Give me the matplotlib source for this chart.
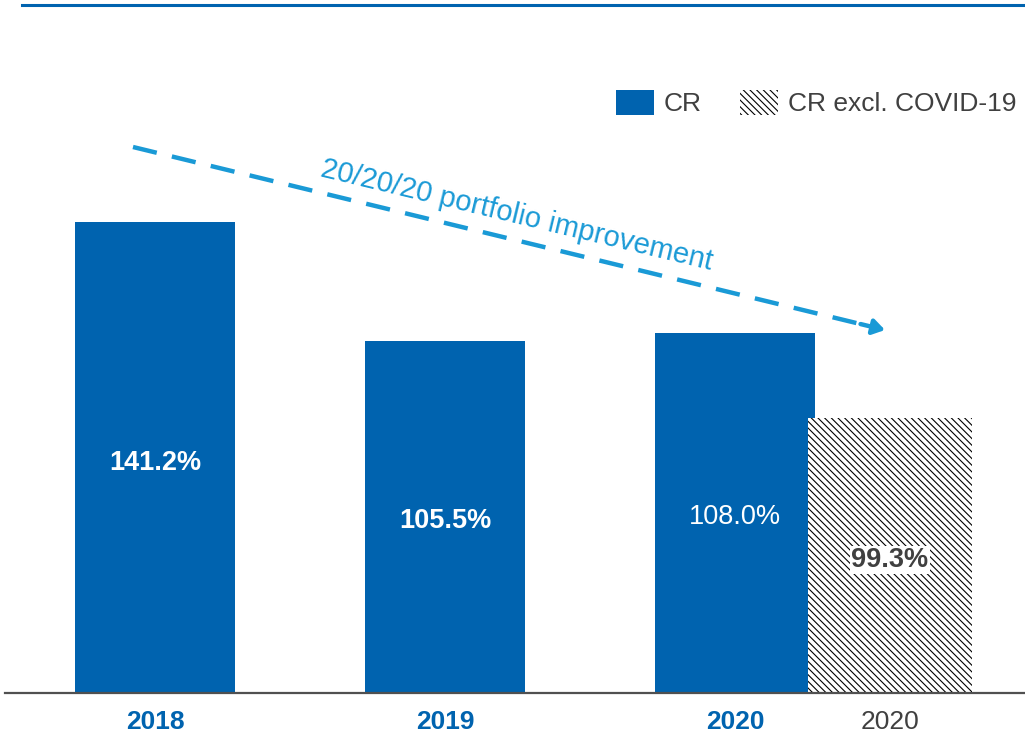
#!/usr/bin/env python

import matplotlib
matplotlib.use('Agg')
import matplotlib.pyplot as plt
from matplotlib.lines import Line2D

plt.rcParams['font.family'] = ['Liberation Sans', 'DejaVu Sans']
plt.rcParams['hatch.linewidth'] = 0.8

# data
years = ['2018', '2019', '2020']
cr_values = [141.2, 105.5, 108.0]
cr_labels = ['141.2%', '105.5%', '108.0%']
excl_year = '2020'
excl_value = 99.3
excl_label = '99.3%'
# the source draws the hatched bar shorter than its value would give
excl_drawn = 82.5
arrow_text = '20/20/20 portfolio improvement'
legend_labels = ['CR', 'CR excl. COVID-19']

blue = '#0063AF'
light_blue = '#1A9AD6'
dark = '#404040'

fig = plt.figure(figsize=(10.25, 7.4), dpi=100)
ax = fig.add_axes([0, 47 / 740, 1, 693 / 740])
ax.set_xlim(-155 / 290, 870 / 290)
ax.set_ylim(0, 693 / 3.335)
ax.axis('off')

x = list(range(len(years)))
bars = ax.bar(x, cr_values, width=0.552, color=blue, label=legend_labels[0])
hbar = ax.bar([2.534], [excl_drawn], width=0.566, color='white', edgecolor='black',
              linewidth=0, hatch='\\\\\\\\\\', label=legend_labels[1])

# value labels
weights = ['bold', 'bold', 'normal']
ypos = [230 / 3.335, 172 / 3.335, 176 / 3.335]
for xi, lab, w, yy in zip(x, cr_labels, weights, ypos):
    ax.text(xi, yy, lab, color='white', fontsize=19.5, fontweight=w,
            ha='center', va='center')
ax.text(2.534, 133 / 3.335, excl_label, color=dark, fontsize=19.5, fontweight='bold',
        ha='center', va='center',
        bbox=dict(facecolor='white', edgecolor='none', pad=1))

# year labels under the axis
for xi, yr in zip(x, years):
    ax.text(xi, -29 / 3.335, yr, color=blue, fontsize=19, fontweight='bold',
            ha='center', va='center')
ax.text(2.534, -29 / 3.335, excl_year, color=dark, fontsize=19,
        ha='center', va='center')

# baseline
ax.axhline(0, xmin=5 / 1025, xmax=1, color='#505050', lw=1.6, clip_on=False)

# dashed trend arrow
x0, y0 = -22 / 290, (693 - 147) / 3.335
x1, y1 = 730 / 290, (693 - 330) / 3.335
xm = x0 + (x1 - x0) * 0.975
ym = y0 + (y1 - y0) * 0.975
ax.plot([x0, xm], [y0, ym], color=light_blue, lw=3.2, ls=(0, (5.5, 3.5)),
        solid_capstyle='butt', dash_capstyle='butt')
ax.annotate('', xy=(x1, y1), xytext=(xm - (x1 - xm) * 0.3, ym - (y1 - ym) * 0.3),
            arrowprops=dict(arrowstyle='-|>,head_length=0.7,head_width=0.45',
                            color=light_blue, lw=3.2, shrinkA=0, shrinkB=0))
ax.text(362 / 290, (693 - 215) / 3.335, arrow_text, color=light_blue, fontsize=21,
        rotation=-13.5, rotation_mode='anchor', ha='center', va='center')

# legend
fig.legend(handles=[bars, hbar], labels=legend_labels, loc='center left',
           bbox_to_anchor=(616 / 1025, 1 - 103 / 740), ncol=2, frameon=False,
           fontsize=19, handlelength=1.44, handleheight=1.1, handletextpad=0.38,
           columnspacing=1.44, borderpad=0, borderaxespad=0, labelcolor=dark)

# top rule
fig.add_artist(Line2D([22 / 1025, 1], [1 - 5 / 740, 1 - 5 / 740], color=blue, lw=2.2,
                      transform=fig.transFigure))

plt.savefig('out.png', dpi=100)
